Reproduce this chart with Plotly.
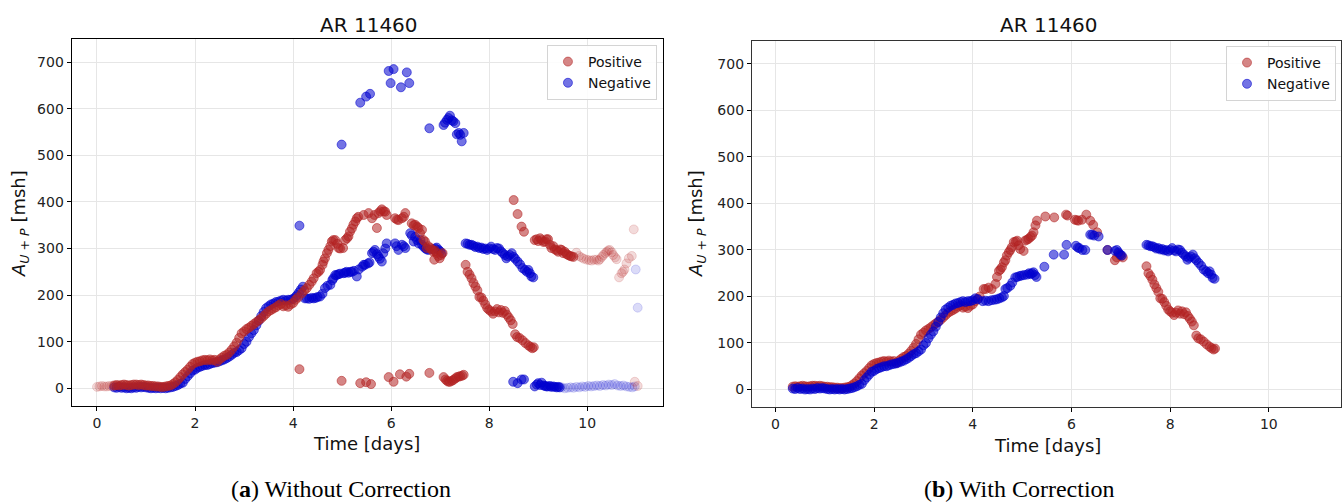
import plotly.graph_objects as go

# ---------------- data (time in days, area in msh) ----------------
# shared rising phase (both panels)
pos_rise_t = [0.35, 0.40, 0.45, 0.50, 0.55, 0.60, 0.65, 0.70, 0.75, 0.80,
              0.85, 0.90, 0.95, 1.00, 1.05, 1.10, 1.15, 1.20, 1.25, 1.30,
              1.35, 1.40, 1.45, 1.50, 1.55, 1.60, 1.65, 1.70, 1.75, 1.80,
              1.85, 1.90, 1.95, 2.00, 2.05, 2.10, 2.15, 2.20, 2.25, 2.30,
              2.35, 2.40, 2.45, 2.50, 2.55, 2.60, 2.65, 2.70, 2.75, 2.80,
              2.85, 2.90, 2.95, 3.00, 3.05, 3.10, 3.15, 3.20, 3.25, 3.30,
              3.35, 3.40, 3.45, 3.50, 3.55, 3.60, 3.65, 3.70, 3.75, 3.80,
              3.85, 3.90, 3.95, 4.00, 4.05, 4.10]
pos_rise_v = [6, 7, 6, 7, 8, 7, 6, 7, 8, 8,
              7, 8, 7, 6, 6, 5, 5, 4, 4, 3,
              3, 4, 5, 6, 9, 13, 18, 24, 30, 35,
              40, 46, 52, 55, 57, 58, 60, 61, 60, 62,
              60, 61, 57, 62, 66, 70, 72, 77, 83, 90,
              98, 108, 118, 122, 127, 130, 134, 138, 142, 146,
              150, 155, 160, 165, 168, 171, 174, 178, 181, 176,
              178, 175, 180, 183, 190, 195]
neg_rise_t = [0.35, 0.40, 0.45, 0.50, 0.55, 0.60, 0.65, 0.70, 0.75, 0.80,
              0.85, 0.90, 0.95, 1.00, 1.05, 1.10, 1.15, 1.20, 1.25, 1.30,
              1.35, 1.40, 1.45, 1.50, 1.55, 1.60, 1.65, 1.70, 1.75, 1.80,
              1.85, 1.90, 1.95, 2.00, 2.05, 2.10, 2.15, 2.20, 2.25, 2.30,
              2.35, 2.40, 2.45, 2.50, 2.55, 2.60, 2.65, 2.70, 2.75, 2.80,
              2.85, 2.90, 2.95, 3.00, 3.05, 3.10, 3.15, 3.20, 3.25, 3.30,
              3.35, 3.40, 3.45, 3.50, 3.55, 3.60, 3.65, 3.70, 3.75, 3.80,
              3.85, 3.90, 3.95, 4.00, 4.05]
neg_rise_v = [2, 1, 3, 1, 2, 0, 1, 0, 2, 1,
              3, 2, 3, 2, 1, 0, 1, 0, 1, 0,
              1, 0, 1, 2, 3, 5, 7, 10, 12, 20,
              26, 32, 38, 40, 44, 46, 48, 50, 50, 52,
              54, 55, 56, 58, 60, 62, 65, 68, 72, 76,
              78, 82, 86, 95, 100, 110, 118, 125, 135, 145,
              155, 164, 172, 176, 180, 182, 185, 186, 188, 190,
              188, 190, 190, 192, 196]

# shared decay phase (both panels)
pos_decay_t = [7.52, 7.56, 7.60, 7.64, 7.68, 7.72, 7.76, 7.80, 7.84, 7.88,
               7.92, 7.96, 8.00, 8.04, 8.08, 8.12, 8.16, 8.20, 8.24, 8.28,
               8.32, 8.36, 8.40, 8.44, 8.48, 8.53, 8.57, 8.62, 8.68, 8.74,
               8.80, 8.84, 8.88, 8.91]
pos_decay_v = [265, 250, 244, 236, 226, 218, 210, 196, 195, 188,
               180, 172, 168, 165, 160, 165, 170, 163, 168, 162,
               166, 158, 152, 146, 138, 116, 110, 108, 103, 97,
               92, 89, 86, 88]
neg_decay_t = [7.52, 7.56, 7.60, 7.64, 7.68, 7.72, 7.76, 7.80, 7.84, 7.88,
               7.92, 7.96, 8.00, 8.04, 8.08, 8.12, 8.16, 8.20, 8.24, 8.28,
               8.32, 8.35, 8.38, 8.42, 8.46, 8.50, 8.53, 8.58, 8.63, 8.68,
               8.73, 8.77, 8.80, 8.83, 8.86, 8.90]
neg_decay_v = [311, 310, 308, 308, 306, 303, 304, 301, 302, 299,
               300, 297, 300, 304, 299, 297, 301, 300, 294, 290,
               286, 279, 283, 286, 290, 282, 278, 272, 266, 258,
               254, 250, 254, 247, 240, 238]

# panel (a): without correction
a_pos_mid_t = [4.18, 4.23, 4.28, 4.33, 4.38, 4.42, 4.48, 4.52, 4.55, 4.60,
               4.62, 4.65, 4.69, 4.72, 4.76, 4.79, 4.82, 4.86, 4.90, 4.93,
               4.96, 5.02, 5.06, 5.10, 5.13, 5.16, 5.20, 5.23, 5.27, 5.30,
               5.33, 5.44, 5.54, 5.61, 5.66, 5.71, 5.74, 5.78, 5.81, 5.85,
               5.88, 5.91, 6.08, 6.12, 6.15, 6.22, 6.26, 6.29, 6.42, 6.46,
               6.49, 6.53, 6.56, 6.59, 6.63, 6.66, 6.69, 6.73, 6.76, 6.80,
               6.83, 6.86, 6.88, 6.90, 6.93, 6.96, 6.99, 7.02, 7.05]
a_pos_mid_v = [204, 210, 215, 222, 229, 236, 247, 250, 254, 265,
               272, 279, 290, 297, 305, 315, 318, 318, 310, 301,
               300, 301, 318, 322, 326, 336, 343, 351, 358, 365,
               368, 372, 376, 365, 372, 344, 376, 380, 384, 380,
               379, 372, 365, 362, 361, 365, 368, 376, 354, 350,
               351, 347, 344, 333, 340, 318, 315, 301, 305, 301,
               298, 293, 276, 295, 290, 284, 279, 286, 290]
a_neg_mid_t = [4.08, 4.12, 4.16, 4.20, 4.24, 4.28, 4.33, 4.38, 4.42, 4.46,
               4.50, 4.55, 4.60, 4.65, 4.70, 4.76, 4.80, 4.82, 4.86, 4.89,
               4.93, 4.96, 5.03, 5.06, 5.09, 5.13, 5.17, 5.20, 5.24, 5.30,
               5.34, 5.41, 5.44, 5.47, 5.53, 5.56, 5.61, 5.64, 5.67, 5.71,
               5.74, 5.77, 5.81, 5.84, 5.88, 5.91, 6.08, 6.11, 6.15, 6.22,
               6.26, 6.29, 6.39, 6.42, 6.46, 6.49, 6.53, 6.56, 6.60, 6.63,
               6.66, 6.70, 6.73, 6.76, 6.86, 6.90, 6.93, 6.97, 7.00, 7.03]
a_neg_mid_v = [200, 206, 212, 218, 193, 193, 192, 194, 193, 194,
               196, 197, 203, 215, 220, 222, 232, 236, 243, 243,
               245, 246, 247, 248, 250, 248, 250, 250, 252, 240,
               255, 261, 265, 265, 268, 270, 290, 293, 297, 288,
               283, 278, 272, 290, 300, 311, 311, 305, 297, 308,
               305, 301, 333, 328, 315, 325, 318, 311, 318, 308,
               304, 300, 298, 297, 298, 300, 302, 297, 294, 290]
a_pos_out_t = [4.13, 4.99, 5.37, 5.49, 5.59, 5.95, 6.05, 6.18, 6.31, 6.37,
               6.78, 7.07, 7.11, 7.14, 7.17, 7.20, 7.24, 7.27, 7.31, 7.34,
               7.38, 7.41, 7.45, 7.48]
a_pos_out_v = [41, 16, 11, 13, 9, 24, 14, 30, 25, 31,
               33, 24, 19, 16, 14, 14, 16, 18, 21, 24,
               25, 26, 27, 29]
a_neg_out_t = [4.13, 4.99, 5.37, 5.49, 5.57, 5.95, 5.99, 6.05, 6.20, 6.32,
               6.37, 6.78, 7.07, 7.10, 7.14, 7.17, 7.20, 7.24, 7.27, 7.31,
               7.34, 7.38, 7.41, 7.44, 7.48]
a_neg_out_v = [349, 523, 613, 626, 632, 681, 655, 685, 646, 678,
               655, 558, 565, 570, 576, 580, 585, 575, 573, 569,
               545, 548, 544, 530, 548]
a_pos_late_t = [8.50, 8.58, 8.66, 8.71, 8.93, 8.97, 9.00, 9.04, 9.07, 9.11,
                9.14, 9.17, 9.20, 9.24, 9.27, 9.31, 9.34, 9.38, 9.41, 9.45,
                9.48, 9.51, 9.54, 9.58, 9.61, 9.65, 9.68, 9.72]
a_pos_late_v = [404, 374, 347, 336, 318, 320, 316, 322, 318, 314,
                315, 320, 320, 308, 301, 305, 298, 296, 293, 298,
                297, 290, 293, 288, 286, 284, 283, 282]
a_neg_late_t = [8.49, 8.58, 8.66, 8.71, 8.93, 8.97, 9.00, 9.04, 9.07, 9.11,
                9.14, 9.17, 9.20, 9.24, 9.27, 9.31, 9.34, 9.38, 9.41, 9.44]
a_neg_late_v = [14, 11, 19, 19, 4, 8, 11, 7, 12, 6,
                5, 4, 4, 5, 3, 4, 3, 2, 3, 2]
a_pos_fade_t = [0.00, 0.05, 0.10, 0.15, 0.20, 0.25, 0.30,
                9.78, 9.83, 9.88, 9.93, 9.99, 10.04, 10.09, 10.14, 10.19, 10.23,
                10.26, 10.30, 10.33, 10.37, 10.40, 10.43, 10.46, 10.50, 10.53, 10.57,
                10.60, 10.65, 10.70, 10.73, 10.76, 10.80, 10.85, 10.91, 10.95, 10.97,
                11.03]
a_pos_fade_v = [3, 4, 5, 4, 4, 5, 5,
                291, 284, 281, 278, 276, 275, 274, 276, 276, 274,
                277, 282, 286, 290, 293, 296, 297, 292, 286, 281,
                277, 238, 247, 250, 255, 268, 279, 284, 341, 14,
                5]
a_neg_fade_t = [9.48, 9.54, 9.60, 9.66, 9.72, 9.78, 9.84, 9.90, 9.96, 10.02,
                10.08, 10.14, 10.20, 10.26, 10.32, 10.38, 10.44, 10.50, 10.56, 10.62,
                10.68, 10.74, 10.80, 10.86, 10.92, 10.97, 10.99, 11.03]
a_neg_fade_v = [2, 0, 1, 2, 1, 3, 2, 4, 3, 5,
                4, 5, 6, 5, 7, 6, 8, 7, 9, 6,
                5, 6, 4, 3, 2, 4, 255, 173]

# panel (b): with correction
b_pos_mid_t = [4.14, 4.22, 4.26, 4.32, 4.38, 4.46, 4.49, 4.53, 4.56, 4.59,
               4.63, 4.66, 4.69, 4.73, 4.76, 4.79, 4.83, 4.87, 4.90, 4.93,
               4.96, 5.03, 5.06, 5.10, 5.13, 5.17, 5.20, 5.23, 5.27, 5.30,
               5.47, 5.65, 5.89, 5.92, 6.07, 6.11, 6.14, 6.21, 6.30, 6.38,
               6.44, 6.52, 6.73, 6.88, 6.92, 6.96, 7.00, 7.04]
b_pos_mid_v = [200, 216, 216, 219, 216, 227, 242, 255, 258, 263,
               273, 278, 288, 295, 300, 306, 317, 318, 320, 310,
               302, 298, 320, 322, 324, 328, 331, 338, 353, 363,
               372, 370, 376, 374, 365, 364, 363, 365, 376, 363,
               354, 338, 300, 278, 284, 292, 287, 284]
b_neg_mid_t = [4.10, 4.20, 4.26, 4.32, 4.38, 4.44, 4.49, 4.54, 4.59, 4.63,
               4.66, 4.70, 4.76, 4.80, 4.86, 4.90, 4.95, 4.99, 5.04, 5.10,
               5.14, 5.17, 5.20, 5.23, 5.26, 5.29, 5.45, 5.64, 5.85, 5.90,
               6.09, 6.13, 6.16, 6.22, 6.28, 6.38, 6.42, 6.46, 6.55, 6.73,
               6.88, 6.92, 6.95, 6.99, 7.02]
b_neg_mid_v = [194, 190, 191, 190, 192, 193, 194, 196, 198, 201,
               216, 218, 223, 230, 241, 242, 244, 245, 246, 247,
               250, 248, 250, 252, 246, 242, 264, 290, 290, 311,
               309, 305, 304, 300, 300, 333, 333, 331, 329, 300,
               298, 300, 295, 290, 288]

panel_titles = ["AR 11460", "AR 11460"]
captions = ["(<b>a</b>) Without Correction", "(<b>b</b>) With Correction"]
x_ticks = [0, 2, 4, 6, 8, 10]
y_ticks = [0, 100, 200, 300, 400, 500, 600, 700]

# ---------------- styling ----------------
RED = "rgba(178,34,34,0.55)"
RED_FADE = "rgba(178,34,34,0.16)"
BLUE = "rgba(0,0,205,0.55)"
BLUE_FADE = "rgba(0,0,205,0.14)"
MS = 9
FONT = "DejaVu Sans"


def pts(x, y, color, xa, ya, name="", show=False, legend="legend", rank=1000):
    return go.Scatter(x=x, y=y, mode="markers", name=name, showlegend=show,
                      legend=legend, legendrank=rank, xaxis=xa, yaxis=ya,
                      hoverinfo="skip",
                      marker=dict(size=MS, color=color, line=dict(width=1, color=color)))


fig = go.Figure()

# panel (a): negative drawn first, positive on top
fig.add_trace(pts(a_neg_fade_t, a_neg_fade_v, BLUE_FADE, "x", "y"))
fig.add_trace(pts(neg_rise_t + a_neg_mid_t + a_neg_out_t + neg_decay_t + a_neg_late_t,
                  neg_rise_v + a_neg_mid_v + a_neg_out_v + neg_decay_v + a_neg_late_v,
                  BLUE, "x", "y", name="Negative", show=True, legend="legend", rank=2))
fig.add_trace(pts(a_pos_fade_t, a_pos_fade_v, RED_FADE, "x", "y"))
fig.add_trace(pts(pos_rise_t + a_pos_mid_t + a_pos_out_t + pos_decay_t + a_pos_late_t,
                  pos_rise_v + a_pos_mid_v + a_pos_out_v + pos_decay_v + a_pos_late_v,
                  RED, "x", "y", name="Positive", show=True, legend="legend", rank=1))

# panel (b): positive first, negative on top
fig.add_trace(pts(pos_rise_t + b_pos_mid_t + pos_decay_t,
                  pos_rise_v + b_pos_mid_v + pos_decay_v,
                  RED, "x2", "y2", name="Positive", show=True, legend="legend2", rank=1))
fig.add_trace(pts(neg_rise_t + b_neg_mid_t + neg_decay_t,
                  neg_rise_v + b_neg_mid_v + neg_decay_v,
                  BLUE, "x2", "y2", name="Negative", show=True, legend="legend2", rank=2))

axis_common = dict(showline=True, mirror=True, linewidth=1.2, ticks="outside",
                   ticklen=4, tickwidth=1, tickcolor="#000", showgrid=True,
                   gridcolor="#e6e6e6", gridwidth=1, zeroline=False,
                   tickfont=dict(family=FONT, size=14, color="#222"))

fig.update_layout(
    width=1344, height=502, autosize=False,
    margin=dict(l=0, r=0, t=0, b=0),
    paper_bgcolor="white", plot_bgcolor="white",
    font=dict(family=FONT, color="#111"),
    xaxis=dict(domain=[0.05335, 0.49308], range=[-0.516, 11.54], anchor="y",
               tickvals=x_ticks, linecolor="#000", **axis_common),
    yaxis=dict(domain=[0.19124, 0.92171], range=[-38, 749], anchor="x",
               tickvals=y_ticks, linecolor="#000", **axis_common),
    xaxis2=dict(domain=[0.55952, 0.99754], range=[-0.476, 11.457], anchor="y2",
                tickvals=x_ticks, linecolor="#333", **axis_common),
    yaxis2=dict(domain=[0.18984, 0.91892], range=[-37, 750], anchor="x2",
                tickvals=y_ticks, linecolor="#333", **axis_common),
    legend=dict(x=0.4888, xanchor="right", y=0.9104, yanchor="top",
                bgcolor="rgba(255,255,255,0.85)", bordercolor="#d4d4d4",
                borderwidth=1, font=dict(family=FONT, size=14, color="#111"),
                itemwidth=30, tracegroupgap=2),
    legend2=dict(x=0.99405, xanchor="right", y=0.9084, yanchor="top",
                 bgcolor="rgba(255,255,255,0.85)", bordercolor="#d4d4d4",
                 borderwidth=1, font=dict(family=FONT, size=14, color="#111"),
                 itemwidth=30, tracegroupgap=2),
)

ylab = "<i>A</i><sub><i>U + P</i></sub> [msh]"
ann = []
ann.append(dict(text=panel_titles[0], x=369 / 1344, y=1 - 25 / 502))
ann.append(dict(text=panel_titles[1], x=1049 / 1344, y=1 - 25 / 502))
for a in ann:
    a.update(xref="paper", yref="paper", xanchor="center", yanchor="middle",
             showarrow=False, font=dict(family=FONT, size=20, color="#111"))
more = [
    dict(text="Time [days]", x=367 / 1344, y=1 - 443 / 502, textangle=0),
    dict(text="Time [days]", x=1047 / 1344, y=1 - 445 / 502, textangle=0),
    dict(text=ylab, x=20 / 1344, y=1 - 224 / 502, textangle=-90),
    dict(text=ylab, x=697 / 1344, y=1 - 224 / 502, textangle=-90),
]
for a in more:
    a.update(xref="paper", yref="paper", xanchor="center", yanchor="middle",
             showarrow=False, font=dict(family=FONT, size=18, color="#111"))
ann += more
caps = [
    dict(text=captions[0], x=341 / 1344, y=1 - 489 / 502),
    dict(text=captions[1], x=1019 / 1344, y=1 - 489 / 502),
]
for a in caps:
    a.update(xref="paper", yref="paper", xanchor="center", yanchor="middle",
             showarrow=False, font=dict(family="Liberation Serif", size=24, color="#000"))
ann += caps
fig.update_layout(annotations=ann)

fig.write_html("out.html")
